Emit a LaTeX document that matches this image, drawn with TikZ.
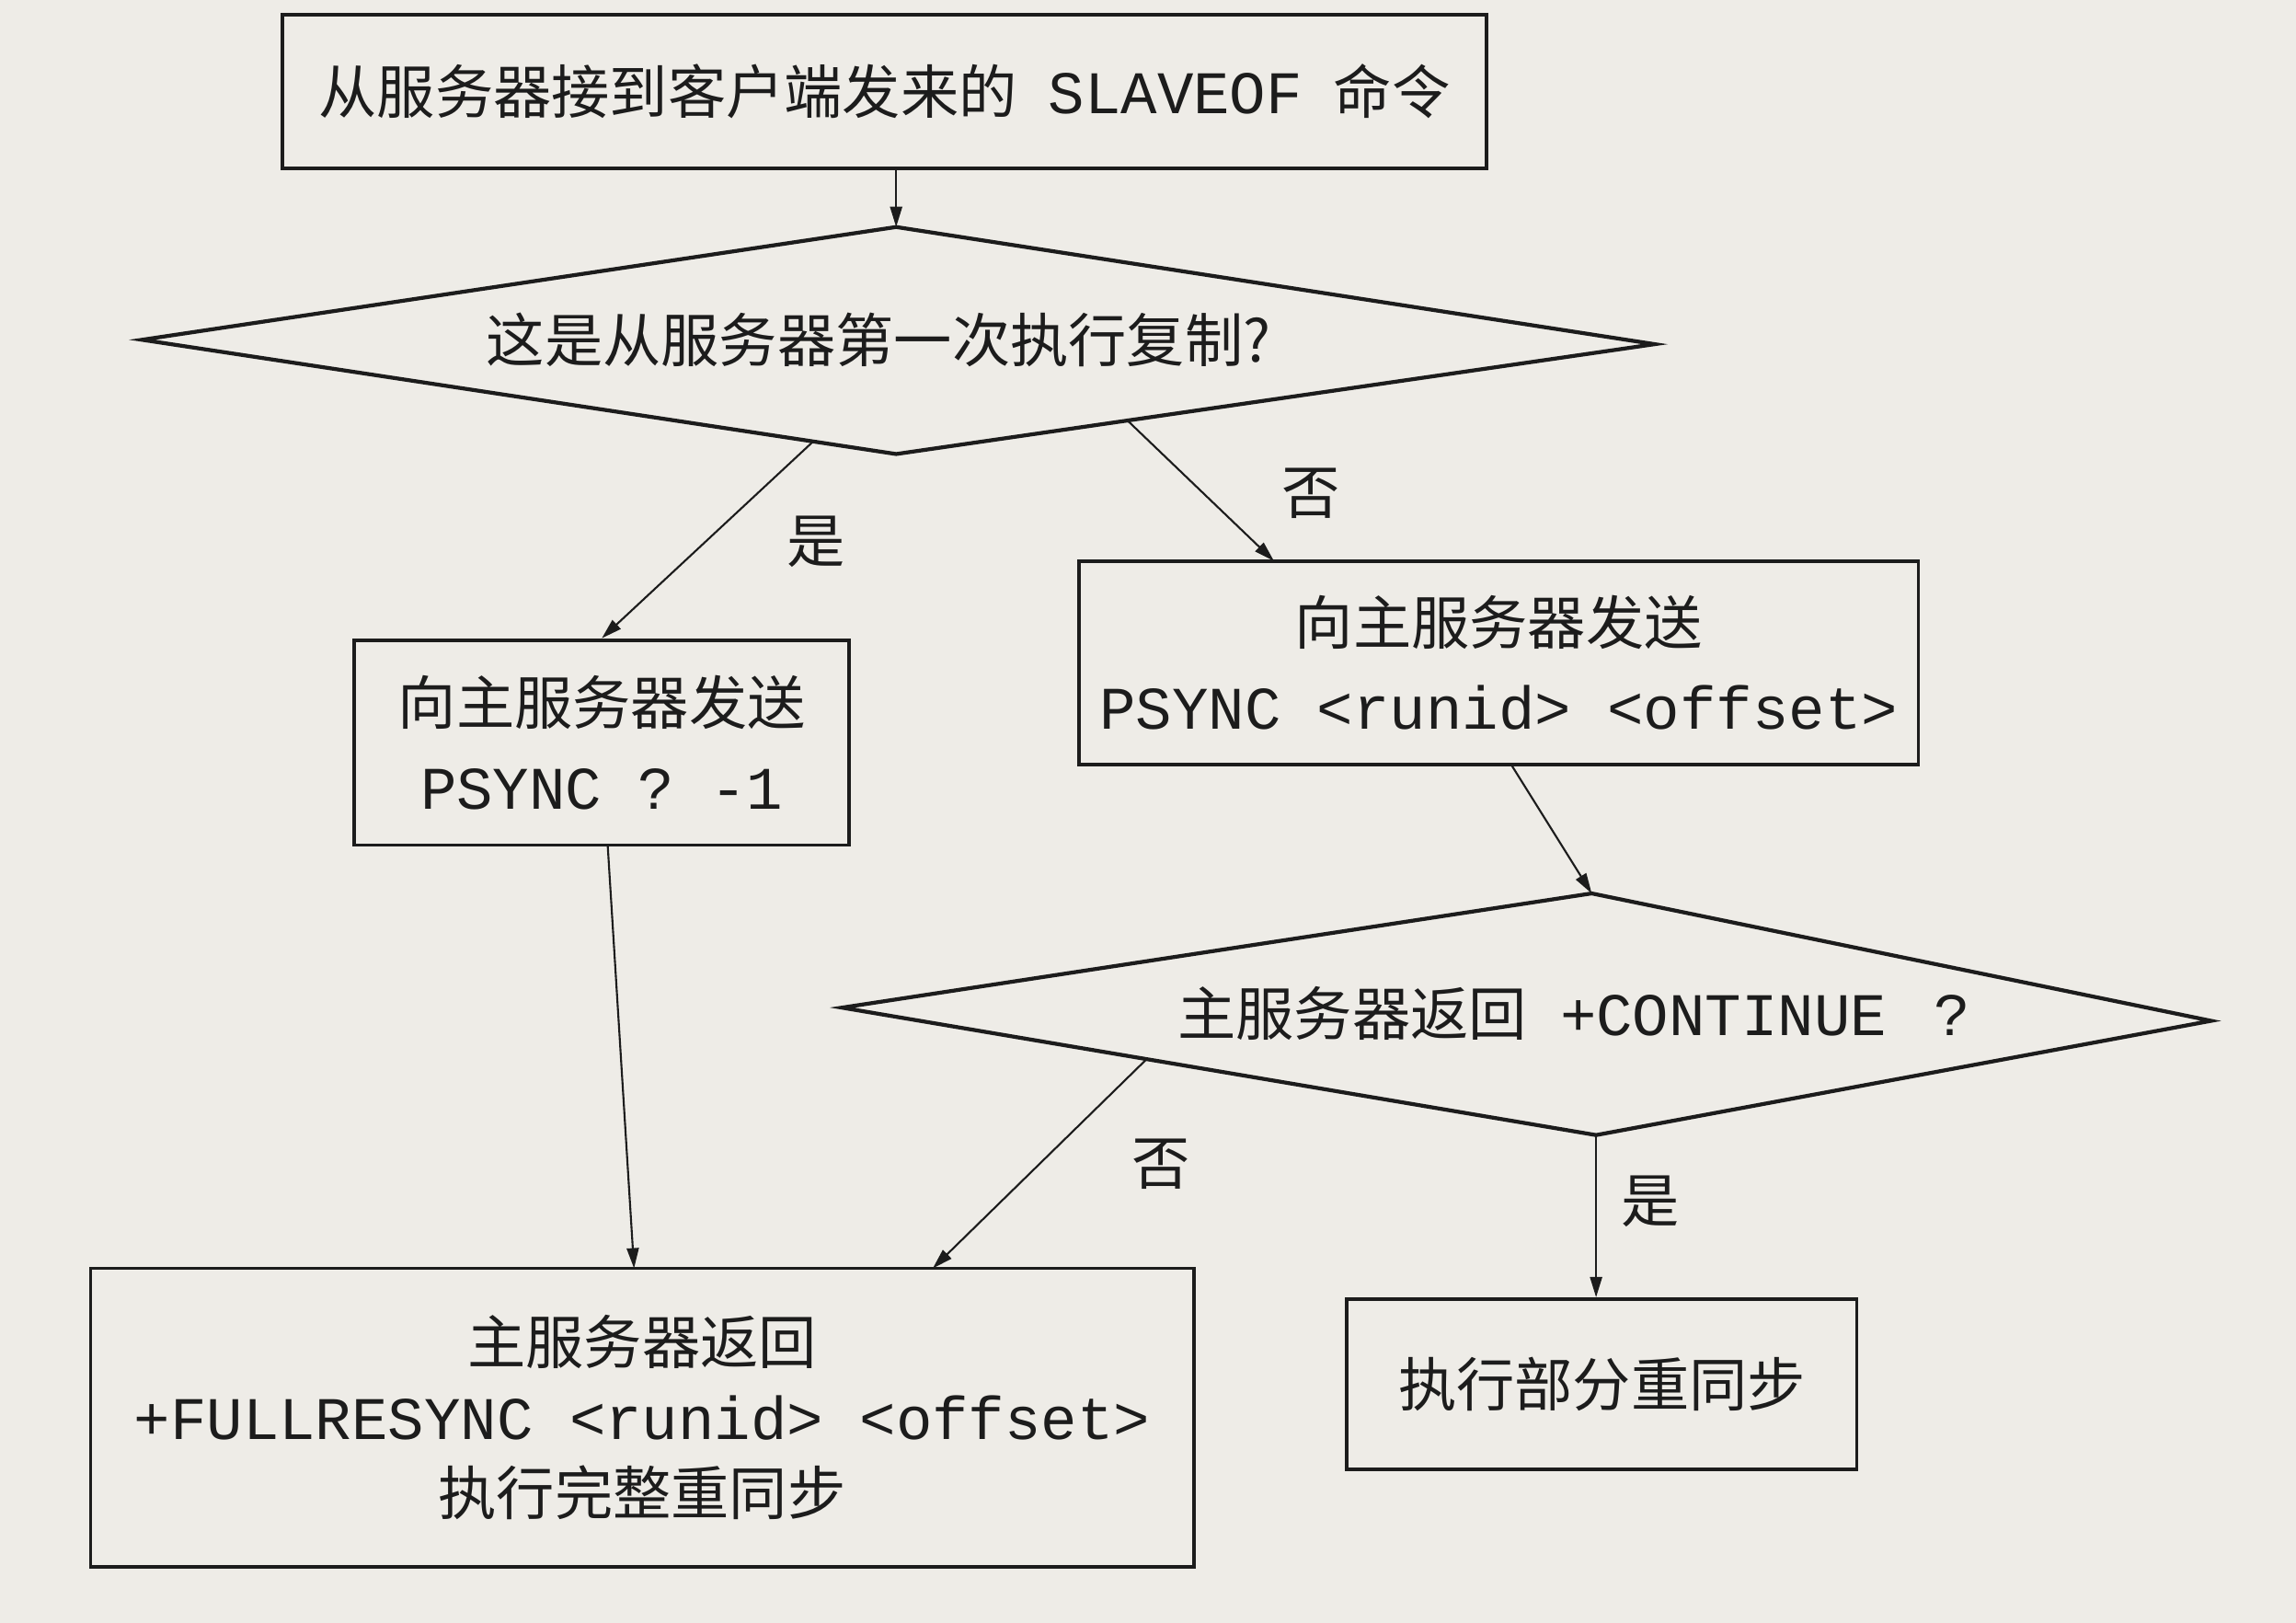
\documentclass[tikz,border=0pt]{standalone}
\usepackage{fontspec}
\newfontfamily\cjk{Noto Sans CJK SC}
\setmonofont{Liberation Mono}
\usetikzlibrary{arrows.meta,calc}
\definecolor{paper}{RGB}{238,236,231}
\definecolor{ink}{RGB}{28,28,28}
\newcommand\mtxt[1]{{\ttfamily\fontsize{18.7}{23}\selectfont #1}}
\begin{document}
\begin{tikzpicture}[x=0.01592cm,y=-0.01592cm,
  txt/.style={font=\cjk\fontsize{18}{26}\selectfont, text=ink, align=center},
  box/.style={txt, draw=ink, line width=1.1pt, inner sep=0pt},
  dia/.style={draw=ink, line width=1.2pt, line join=miter},
  arr/.style={draw=ink, line width=0.6pt, -{Triangle[length=0.22cm,width=0.13cm]}},
  lbl/.style={txt}]
\fill[paper] (0,0) rectangle (1568,1108);
\useasboundingbox (0,0) rectangle (1568,1108);

% boxes
\node[box, minimum width=13.086cm, minimum height=1.672cm] (b1) at (604,62.5)
  {从服务器接到客户端发来的\hspace{0.34cm}\mtxt{SLAVEOF}\hspace{0.34cm}命令};

\node[box, minimum width=5.381cm, minimum height=2.229cm] (b2) at (411,507)
  {向主服务器发送\\\mtxt{PSYNC ? -1}};

\node[box, minimum width=9.122cm, minimum height=2.213cm] (b3) at (1023.5,452.5)
  {向主服务器发送\\\mtxt{PSYNC <runid> <offset>}};

\node[box, minimum width=11.988cm, minimum height=3.248cm, font=\cjk\fontsize{18}{23.3}\selectfont] (b4) at (438.5,968)
  {主服务器返回\\\mtxt{+FULLRESYNC <runid> <offset>}\\执行完整重同步};

\node[box, minimum width=5.540cm, minimum height=1.847cm] (b5) at (1094,945)
  {执行部分重同步};

% diamond 1
\coordinate (d1w) at (97,232); \coordinate (d1n) at (612,155);
\coordinate (d1e) at (1130,235); \coordinate (d1s) at (612,310);
\draw[dia] (d1w) -- (d1n) -- (d1e) -- (d1s) -- cycle;
\node[txt] (d1) at (600,232) {这是从服务器第一次执行复制?};

% diamond 2
\coordinate (d2w) at (575,688); \coordinate (d2n) at (1087,610);
\coordinate (d2e) at (1510,697); \coordinate (d2s) at (1090,775);
\draw[dia] (d2w) -- (d2n) -- (d2e) -- (d2s) -- cycle;
\node[txt] (d2) at (1075,692) {主服务器返回\hspace{0.36cm}\mtxt{+CONTINUE\ \hspace{0.12cm}?}};

% connector points
\coordinate (d1a) at ($(d1s)!0.11!(d1w)$);
\coordinate (d1b) at ($(d1s)!0.305!(d1e)$);
\coordinate (d2a) at ($(d2s)!0.596!(d2w)$);
\coordinate (b3in) at (870,383);
\coordinate (b4in1) at (433,866);
\coordinate (b4in2) at (637,866);
\coordinate (b3out) at (1032,522);
\coordinate (b2out) at (415,577);

% connectors
\draw[arr] (d1n |- b1.south) -- (d1n);
\draw[arr] (d1a) -- (b2.north);
\draw[arr] (d1b) -- (b3in);
\draw[arr] (b3out) -- (d2n);
\draw[arr] (b2out) -- (b4in1);
\draw[arr] (d2a) -- (b4in2);
\draw[arr] (d2s) -- (d2s |- b5.north);

% labels
\node[lbl] (l1) at (557,370) {是};
\node[lbl] (l2) at (895,337) {否};
\node[lbl] (l3) at (793,795) {否};
\node[lbl] (l4) at (1127,820) {是};
\end{tikzpicture}
\end{document}
